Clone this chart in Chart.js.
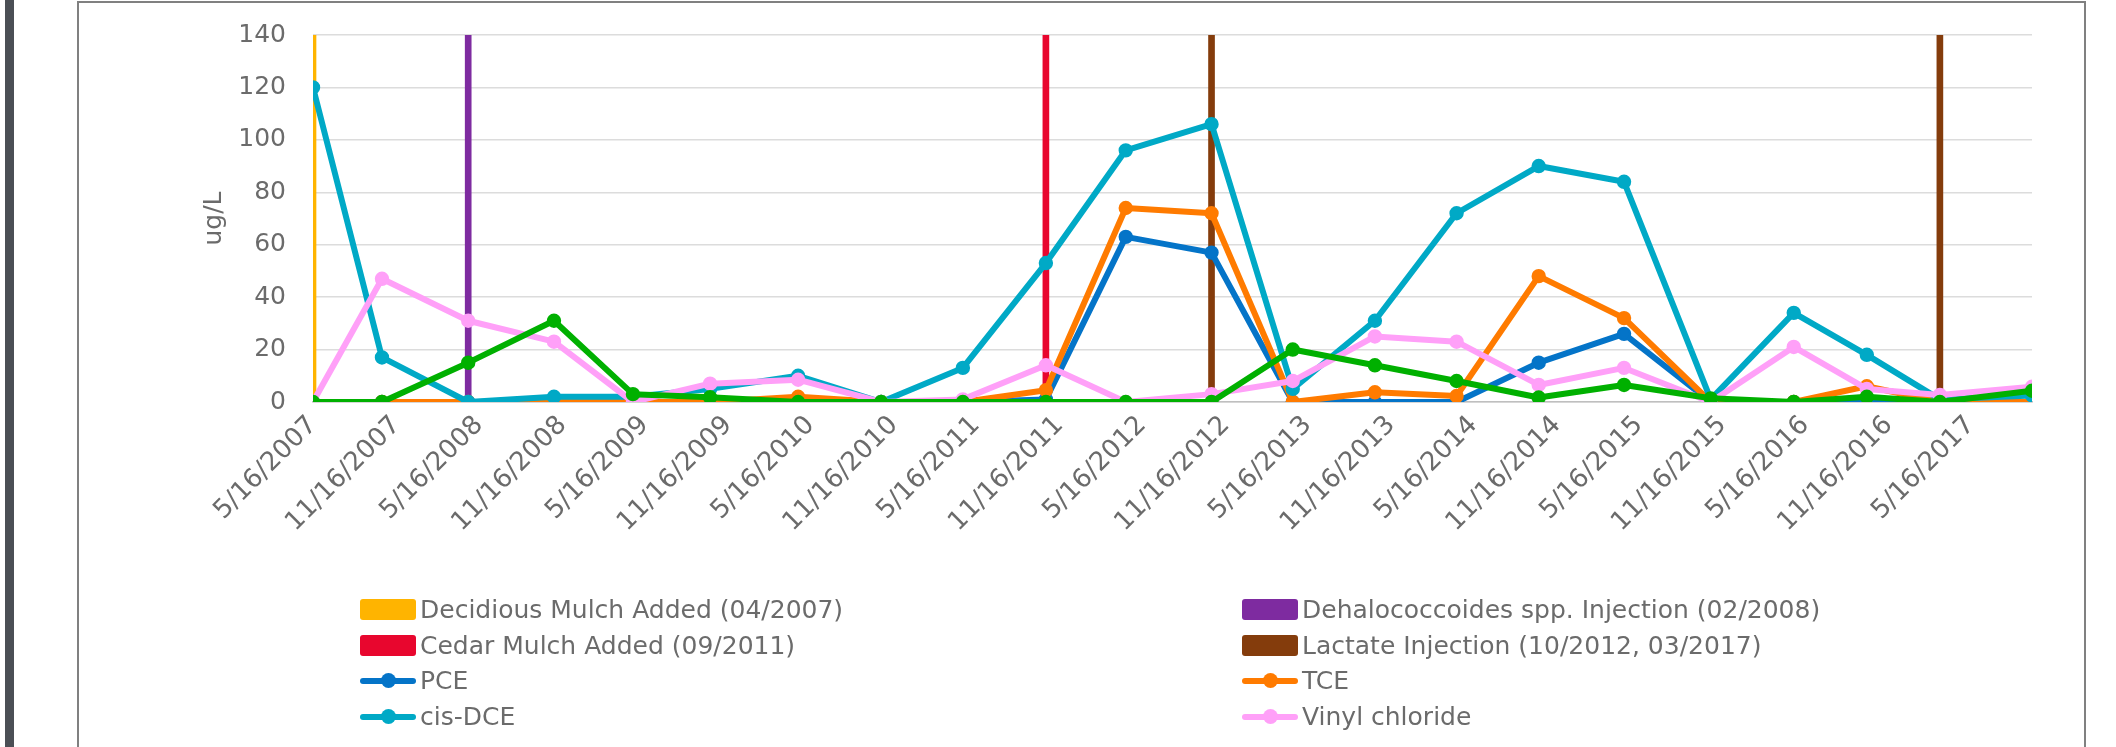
<!DOCTYPE html>
<html>
<head>
<meta charset="utf-8">
<script src="https://cdn.jsdelivr.net/npm/chart.js@4.4.1/dist/chart.umd.min.js"></script>
<style>
  html, body { margin: 0; padding: 0; background: #ffffff; width: 2116px; height: 747px; overflow: hidden; }
  #sidebar { position: absolute; left: 5px; top: 0; width: 9px; height: 747px; background: #4b4f55; }
  #frame { position: absolute; left: 77px; top: 1px; width: 2009px; height: 820px; border: 2px solid #808080; box-sizing: border-box; }
  #wrap { position: absolute; left: 0; top: 0; width: 2116px; height: 747px; }
  #legend { position: absolute; left: 0; top: 0; width: 2116px; height: 747px; font-family: 'DejaVu Sans', sans-serif; font-size: 25px; color: #6b6b6b; }
  .item { position: absolute; height: 36px; display: flex; align-items: center; white-space: nowrap; }
  .sw { position: relative; width: 56px; height: 21px; margin-right: 4px; flex: none; }
  .sw.box { border-radius: 3px; }
  .sw .ln { position: absolute; left: 0; right: 0; top: 8px; height: 6px; border-radius: 3px; }
  .sw .dot { position: absolute; left: 21px; top: 3px; width: 15px; height: 15px; border-radius: 50%; }
</style>
</head>
<body>
<div id="sidebar"></div>
<div id="frame"></div>
<div id="wrap"><canvas id="chart" width="2116" height="747"></canvas></div>
<div id="legend"></div>
<script>
// Sampling dates (M/D/YYYY) and concentrations in ug/L
const sampleDates = [
  '5/16/2007', '10/15/2007', '4/22/2008', '10/28/2008', '4/20/2009', '10/7/2009',
  '4/19/2010', '10/19/2010', '4/17/2011', '10/17/2011', '4/10/2012', '10/16/2012',
  '4/13/2013', '10/11/2013', '4/9/2014', '10/7/2014', '4/13/2015', '10/21/2015',
  '4/21/2016', '9/29/2016', '3/9/2017', '9/28/2017'
];
const pce           = [0, 0, 0, 0, 0, 0, 0, 0, 0, 1, 63, 57, 0, 0, 0, 15, 26, 0, 0, 0, 0, 0];
const tce           = [0, 0, 0, 0, 0, 0, 2, 0, 0, 4.5, 74, 72, 0, 3.7, 2.3, 48, 32, 0, 0, 6, 0, 0];
const cisDce        = [120, 17, 0, 2, 2, 5, 10, 0, 13, 53, 96, 106, 5, 31, 72, 90, 84, 1, 34, 18, 1, 2.5];
const vinylChloride = [0, 47, 31, 23, 0, 7, 8.5, 0, 1, 14, 0, 3, 8, 25, 23, 6.5, 13, 0, 21, 5, 2.7, 5.8];
const ethene        = [0, 0, 15, 31, 3, 1.8, 0, 0, 0, 0, 0, 0, 20, 14, 8, 1.7, 6.5, 1.4, 0, 2, 0, 4.3];

// Remediation events, marked as full-height columns on the sampling date that follows them
const mulchDates   = ['5/16/2007'];
const mulchLevels  = [140];
const dehaloDates  = ['4/22/2008'];
const dehaloLevels = [140];
const cedarDates   = ['10/17/2011'];
const cedarLevels  = [140];
const lactateDates  = ['10/16/2012', '3/9/2017'];
const lactateLevels = [140, 140];

// Horizontal axis labels, every six months
const tickLabels = [
  '5/16/2007', '11/16/2007', '5/16/2008', '11/16/2008', '5/16/2009', '11/16/2009',
  '5/16/2010', '11/16/2010', '5/16/2011', '11/16/2011', '5/16/2012', '11/16/2012',
  '5/16/2013', '11/16/2013', '5/16/2014', '11/16/2014', '5/16/2015', '11/16/2015',
  '5/16/2016', '11/16/2016', '5/16/2017'
];
const yTicks = { min: 0, max: 140, step: 20 };

function dayNumber(s) {
  const [m, d, y] = s.split('/').map(Number);
  return Date.UTC(y, m - 1, d) / 86400000;
}
const day0 = dayNumber(sampleDates[0]);
const toX = s => dayNumber(s) - day0;
const sampleX = sampleDates.map(toX);
const tickX = tickLabels.map(toX);
const series = vals => vals.map((v, i) => ({ x: sampleX[i], y: v }));
const events = (dates, levels) => dates.map((d, i) => ({ x: toX(d), y: levels[i] }));

const TEXT = '#6b6b6b';
const FONT = { family: "'DejaVu Sans', sans-serif", size: 25 };
const XFONT = { family: "'DejaVu Sans', sans-serif", size: 26 };

function eventSet(label, color, data, order) {
  return { type: 'bar', label, data, backgroundColor: color, borderWidth: 0,
           barThickness: 6, grouped: false, clip: 0, order };
}
function lineSet(label, color, data, order, inLegend = true) {
  return { type: 'line', label, data, borderColor: color, backgroundColor: color,
           borderWidth: 6, pointRadius: 6.2, pointBorderWidth: 2, pointBorderColor: color,
           pointBackgroundColor: color, borderJoinStyle: 'round', borderCapStyle: 'round',
           tension: 0, fill: false, order, inLegend };
}

const datasets = [
  eventSet('Decidious Mulch Added (04/2007)', '#ffb400', events(mulchDates, mulchLevels), 10),
  eventSet('Dehalococcoides spp. Injection (02/2008)', '#7e2ba0', events(dehaloDates, dehaloLevels), 9),
  eventSet('Cedar Mulch Added (09/2011)', '#e8062e', events(cedarDates, cedarLevels), 8),
  eventSet('Lactate Injection (10/2012, 03/2017)', '#843c0c', events(lactateDates, lactateLevels), 7),
  lineSet('PCE', '#0474c8', series(pce), 5),
  lineSet('TCE', '#ff7b00', series(tce), 4),
  lineSet('cis-DCE', '#00a9c6', series(cisDce), 3),
  lineSet('Vinyl chloride', '#ffa0f8', series(vinylChloride), 2),
  lineSet('Ethene', '#00b000', series(ethene), 1, false)
];

const chart = new Chart(document.getElementById('chart'), {
  type: 'line',
  data: { datasets },
  options: {
    responsive: false,
    devicePixelRatio: 1,
    animation: false,
    events: [],
    layout: { padding: { left: 199, right: 84, top: 35, bottom: 145 } },
    plugins: { legend: { display: false }, tooltip: { enabled: false } },
    scales: {
      x: {
        type: 'linear',
        min: 0,
        max: sampleX[sampleX.length - 1],
        offset: false,
        bounds: 'data',
        grid: { display: false, drawTicks: false },
        border: { display: true, color: '#bfbfbf', width: 1.5 },
        ticks: {
          autoSkip: false, minRotation: 45, maxRotation: 45,
          color: TEXT, font: XFONT, padding: 8,
          callback: (v, i) => tickLabels[i]
        },
        afterBuildTicks: s => { s.ticks = tickX.map(v => ({ value: v })); },
        afterFit: s => { s.height = 200; s.paddingLeft = 0; s.paddingRight = 0; }
      },
      y: {
        min: yTicks.min,
        max: yTicks.max,
        ticks: { stepSize: yTicks.step, color: TEXT, font: FONT, padding: 27 },
        grid: { color: '#dcdcdc', lineWidth: 1.5, drawTicks: false },
        border: { display: false },
        title: { display: true, text: 'ug/L', color: TEXT, font: FONT, padding: { top: 0, bottom: 0 } },
        afterFit: s => { s.width = 114; s.paddingTop = 0; s.paddingBottom = 0; }
      }
    }
  }
});

// Two-column legend built from the chart's datasets
(function buildLegend() {
  const host = document.getElementById('legend');
  const entries = chart.data.datasets.filter(d => d.inLegend !== false);
  entries.forEach((ds, i) => {
    const col = i % 2, row = Math.floor(i / 2);
    const item = document.createElement('div');
    item.className = 'item';
    item.style.left = (col ? 1242 : 360) + 'px';
    item.style.top = Math.round(609 + row * 35.6 - 18) + 'px';
    const sw = document.createElement('span');
    sw.className = 'sw';
    if (ds.type === 'bar') {
      sw.classList.add('box');
      sw.style.background = ds.backgroundColor;
    } else {
      const ln = document.createElement('span');
      ln.className = 'ln'; ln.style.background = ds.borderColor;
      const dot = document.createElement('span');
      dot.className = 'dot'; dot.style.background = ds.borderColor;
      sw.appendChild(ln); sw.appendChild(dot);
    }
    const txt = document.createElement('span');
    txt.textContent = ds.label;
    item.appendChild(sw); item.appendChild(txt);
    host.appendChild(item);
  });
})();
</script>
</body>
</html>
